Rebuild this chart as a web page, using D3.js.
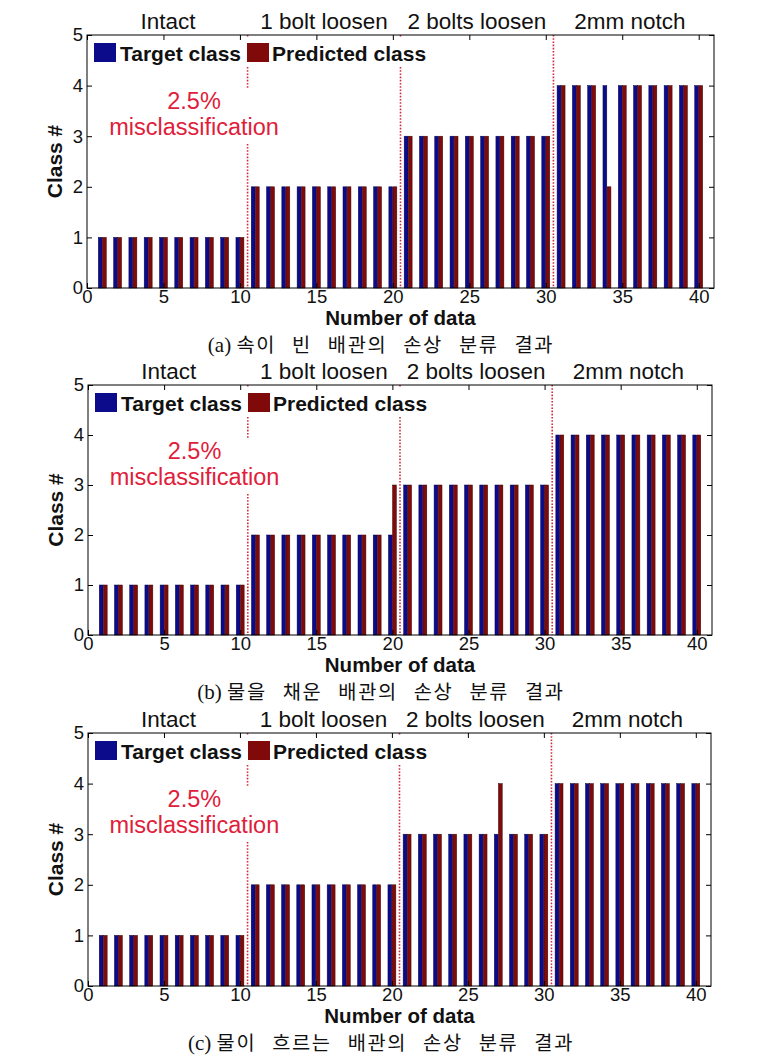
<!DOCTYPE html>
<html>
<head>
<meta charset="utf-8">
<script src="https://cdn.jsdelivr.net/npm/d3@7"></script>
<style>
  html, body { margin: 0; padding: 0; background: #ffffff; }
  svg { display: block; }
</style>
</head>
<body>
<svg id="chart" width="760" height="1056"></svg>
<script>
// ---------------- data ----------------
const categories = ["Intact", "1 bolt loosen", "2 bolts loosen", "2mm notch"];
const categoryCenters = [5.3, 15.5, 25.5, 35.5];
const boundaries = [10.5, 20.5, 30.5];
const dataIndex = [1,2,3,4,5,6,7,8,9,10,11,12,13,14,15,16,17,18,19,20,
                   21,22,23,24,25,26,27,28,29,30,31,32,33,34,35,36,37,38,39,40];
const targetClass = [1,1,1,1,1,1,1,1,1,1, 2,2,2,2,2,2,2,2,2,2,
                     3,3,3,3,3,3,3,3,3,3, 4,4,4,4,4,4,4,4,4,4];
const predictedA  = [1,1,1,1,1,1,1,1,1,1, 2,2,2,2,2,2,2,2,2,2,
                     3,3,3,3,3,3,3,3,3,3, 4,4,4,2,4,4,4,4,4,4];
const predictedB  = [1,1,1,1,1,1,1,1,1,1, 2,2,2,2,2,2,2,2,2,3,
                     3,3,3,3,3,3,3,3,3,3, 4,4,4,4,4,4,4,4,4,4];
const predictedC  = [1,1,1,1,1,1,1,1,1,1, 2,2,2,2,2,2,2,2,2,2,
                     3,3,3,3,3,3,4,3,3,3, 4,4,4,4,4,4,4,4,4,4];
const xTicks = [0, 5, 10, 15, 20, 25, 30, 35, 40];
const yTicks = [0, 1, 2, 3, 4, 5];
const seriesNames = ["Target class", "Predicted class"];
const annotationLines = ["2.5%", "misclassification"];
const captionLabels = ["(a)", "(b)", "(c)"];
const captionTexts = ["속이 빈 배관의 손상 분류 결과", "물을 채운 배관의 손상 분류 결과", "물이 흐르는 배관의 손상 분류 결과"];
const xTitle = "Number of data";
const yTitle = "Class #";

// ---------------- layout ----------------
const panelBoxes = [
  {left: 87, right: 714, top: 35,  bottom: 288},
  {left: 88, right: 712, top: 385, bottom: 635},
  {left: 88, right: 711, top: 733, bottom: 986}
];
const predictedSets = [predictedA, predictedB, predictedC];
const blue = "#0b0b8c", red = "#800a0a";
const lineRed = "#d8283c", textRed = "#e0203a";
const sans = "'Liberation Sans', Arial, Helvetica, sans-serif";

const svg = d3.select("#chart");

panelBoxes.forEach((box, pi) => {
  const g = svg.append("g");
  const x = d3.scaleLinear().domain([0, 41]).range([box.left, box.right]);
  const y = d3.scaleLinear().domain([0, 5]).range([box.bottom, box.top]);
  const bw = x(0.25) - x(0);
  const off = 0.135;

  // dotted boundaries
  g.selectAll("line.bound").data(boundaries).enter().append("line")
    .attr("x1", d => x(d)).attr("x2", d => x(d))
    .attr("y1", y(5)).attr("y2", y(0))
    .attr("stroke", lineRed).attr("stroke-width", 1.6)
    .attr("stroke-dasharray", "1.6,1.6");

  // bars
  const rows = dataIndex.map((d, i) => ({i: d, t: targetClass[i], p: predictedSets[pi][i]}));
  g.selectAll("rect.t").data(rows).enter().append("rect")
    .attr("x", d => x(d.i - off) - bw / 2)
    .attr("width", bw)
    .attr("y", d => y(d.t))
    .attr("height", d => y(0) - y(d.t))
    .attr("fill", blue).attr("stroke", "#05054a").attr("stroke-width", 0.5);
  g.selectAll("rect.p").data(rows).enter().append("rect")
    .attr("x", d => x(d.i + off) - bw / 2)
    .attr("width", bw)
    .attr("y", d => y(d.p))
    .attr("height", d => y(0) - y(d.p))
    .attr("fill", red).attr("stroke", "#3a0505").attr("stroke-width", 0.5);

  // legend (white background)
  g.append("rect").attr("x", box.left + 3).attr("y", box.top + 3)
    .attr("width", 342).attr("height", 28).attr("fill", "#ffffff");
  const legendItems = [{name: seriesNames[0], color: blue, dx: 7, tx: 33},
                       {name: seriesNames[1], color: red, dx: 160, tx: 185}];
  legendItems.forEach(it => {
    g.append("rect").attr("x", box.left + it.dx).attr("y", box.top + 8)
      .attr("width", 22).attr("height", 19).attr("fill", it.color);
    g.append("text").attr("x", box.left + it.tx).attr("y", box.top + 26)
      .attr("font-family", sans).attr("font-weight", "bold").attr("font-size", 21)
      .attr("fill", "#111").text(it.name);
  });

  // annotation with white background
  g.append("rect").attr("x", x(0.9)).attr("y", box.top + 53)
    .attr("width", x(13.3) - x(0.9)).attr("height", 56).attr("fill", "#ffffff");
  annotationLines.forEach((t, k) => {
    g.append("text").attr("x", x(7.0)).attr("y", box.top + 74 + k * 26)
      .attr("text-anchor", "middle").attr("font-family", sans).attr("font-size", 23.5)
      .attr("fill", textRed).text(t);
  });

  // frame
  g.append("rect").attr("x", box.left).attr("y", box.top)
    .attr("width", box.right - box.left).attr("height", box.bottom - box.top)
    .attr("fill", "none").attr("stroke", "#000").attr("stroke-width", 1);

  // axes (ticks inward)
  const axB = d3.axisBottom(x).tickValues(xTicks).tickSizeInner(-5).tickSizeOuter(0).tickPadding(1.5).tickFormat(d3.format("d"));
  const axT = d3.axisTop(x).tickValues(xTicks).tickSizeInner(-5).tickSizeOuter(0).tickFormat("");
  const axL = d3.axisLeft(y).tickValues(yTicks).tickSizeInner(-5).tickSizeOuter(0).tickPadding(4).tickFormat(d3.format("d"));
  const axR = d3.axisRight(y).tickValues(yTicks).tickSizeInner(-5).tickSizeOuter(0).tickFormat("");
  const style = sel => {
    sel.select(".domain").remove();
    sel.selectAll(".tick line").attr("stroke", "#000");
    sel.selectAll(".tick text").attr("font-family", sans).attr("font-size", 18.5).attr("fill", "#111");
  };
  g.append("g").attr("transform", `translate(0,${box.bottom})`).call(axB).call(style);
  g.append("g").attr("transform", `translate(0,${box.top})`).call(axT).call(style);
  g.append("g").attr("transform", `translate(${box.left},0)`).call(axL).call(style);
  g.append("g").attr("transform", `translate(${box.right},0)`).call(axR).call(style);

  // category labels above
  g.selectAll("text.cat").data(categories).enter().append("text")
    .attr("x", (d, i) => x(categoryCenters[i]))
    .attr("y", box.top - 6)
    .attr("text-anchor", "middle").attr("font-family", sans).attr("font-size", 22.5)
    .attr("fill", "#111").text(d => d);

  // axis titles
  g.append("text").attr("x", (box.left + box.right) / 2).attr("y", box.bottom + 36.8)
    .attr("text-anchor", "middle").attr("font-family", sans).attr("font-weight", "bold")
    .attr("font-size", 20.5).attr("fill", "#111").text(xTitle);
  g.append("text")
    .attr("transform", `translate(${box.left - 25},${(box.top + box.bottom) / 2}) rotate(-90)`)
    .attr("text-anchor", "middle").attr("font-family", sans).attr("font-weight", "bold")
    .attr("font-size", 21).attr("fill", "#111").text(yTitle);

  // caption
  const cap = g.append("text").attr("x", 381).attr("y", box.bottom + 64.3)
    .attr("text-anchor", "middle").attr("font-size", 19.8).attr("fill", "#111");
  cap.append("tspan").attr("font-family", "'Liberation Serif', 'Times New Roman', serif")
    .attr("font-size", 21).text(captionLabels[pi] + " ");
  cap.append("tspan").attr("font-family", "'Noto Sans CJK KR', sans-serif")
    .attr("word-spacing", 10).attr("letter-spacing", 1.6).text(captionTexts[pi]);
});
</script>
</body>
</html>
